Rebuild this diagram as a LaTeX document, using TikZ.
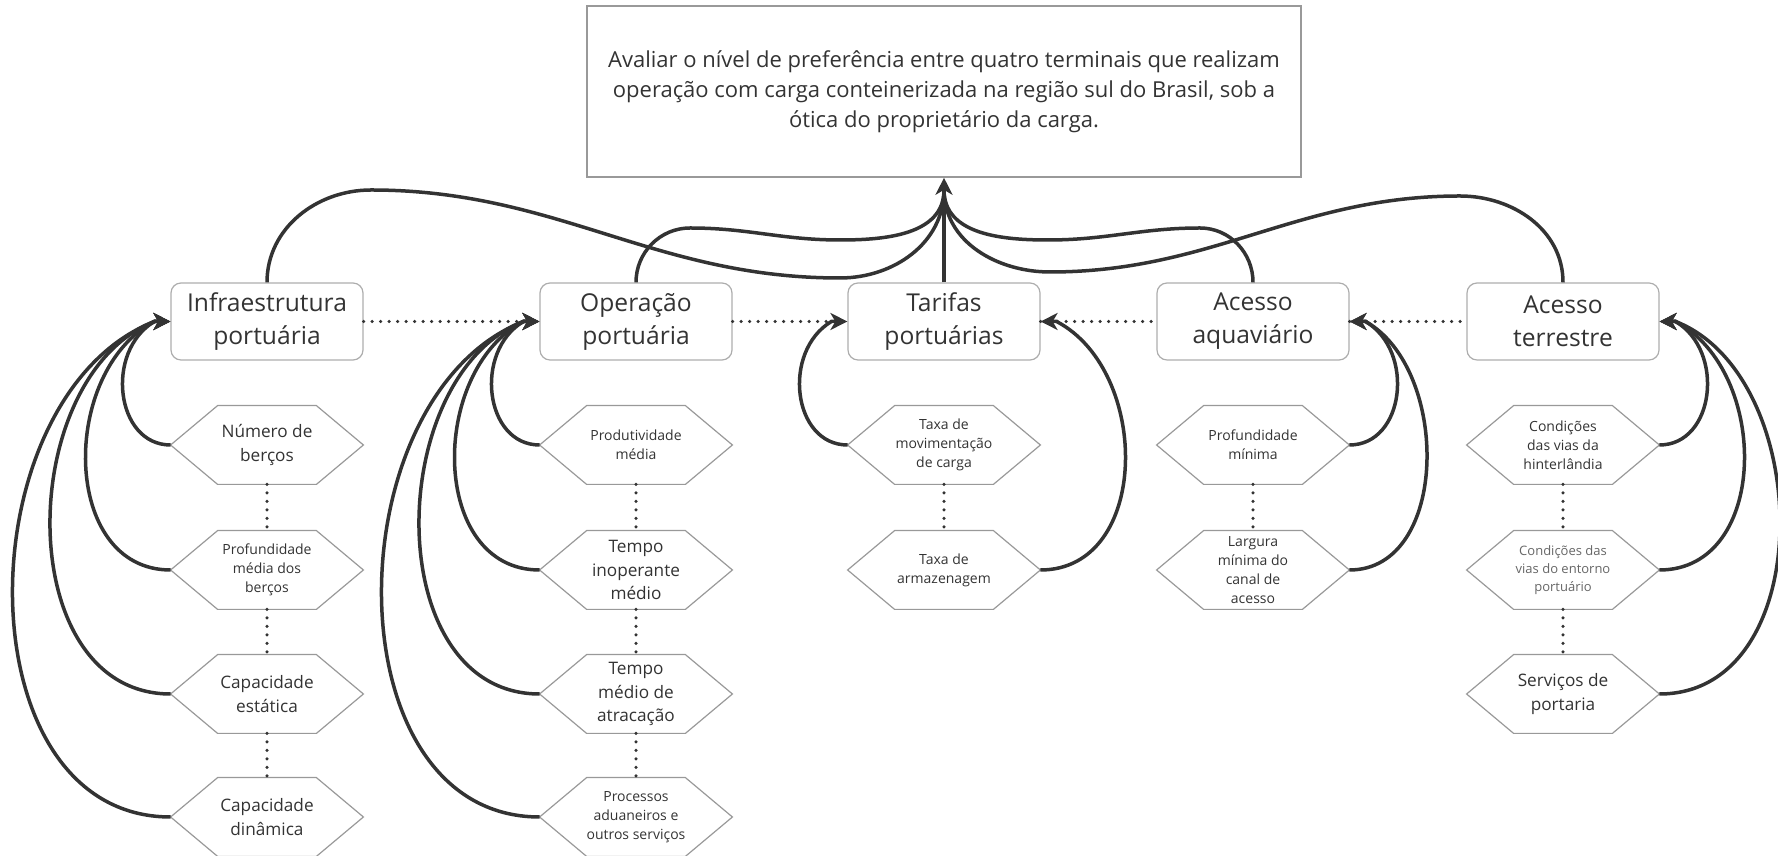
\documentclass[tikz,border=0pt]{standalone}
\usepackage{fontspec}
\setmainfont{Open Sans}
\usetikzlibrary{arrows.meta}
\definecolor{ink}{HTML}{333333}
\definecolor{edgec}{HTML}{999999}
\definecolor{lightink}{HTML}{666666}
\begin{document}
\begin{tikzpicture}[x=0.5pt,y=0.5pt,
 conn/.style={draw=ink, line width=1.75pt},
 tipped/.style={-{Stealth[length=8.5pt,width=8.5pt,inset=2.5pt]}},
 dots/.style={draw=ink, line width=1.75pt, line cap=round, dash pattern=on 0pt off 4.25pt},
 topbox/.style={draw=edgec, line width=0.8pt, minimum width=357pt, minimum height=85.5pt, inner sep=0pt, align=center, text=ink, font=\fontsize{11}{15}\selectfont},
 mainbox/.style={draw=edgec!80, line width=0.6pt, rounded corners=5pt, minimum width=96pt, minimum height=38.5pt, inner sep=0pt, align=center, text=ink, font=\fontsize{12.3}{16.5}\selectfont},
 hexbox/.style={minimum width=96pt, minimum height=39pt, inner sep=0pt, align=center, text=ink},
 big/.style={font=\fontsize{8.6}{11.7}\selectfont},
 small/.style={font=\fontsize{7}{9.4}\selectfont},
 tiny/.style={font=\fontsize{6.5}{9}\selectfont, text=lightink},
 hexline/.style={draw=edgec, line width=0.6pt},
]
\useasboundingbox (0,0) rectangle (1778,856);

% top goal
\node[topbox] (top) at (944,764.5) {Avaliar o nível de preferência entre quatro terminais que realizam\\operação com carga conteinerizada na região sul do Brasil, sob a\\ótica do proprietário da carga.};

% criteria
\node[mainbox] (infra) at (267,534.5) {Infraestrutura\\portuária};
\node[mainbox] (op) at (636,534.5) {Operação\\portuária};
\node[mainbox] (tar) at (944,534.5) {Tarifas\\portuárias};
\node[mainbox] (aqua) at (1253,534.5) {Acesso\\aquaviário};
\node[mainbox] (terr) at (1563,534.5) {Acesso\\terrestre};

% sub-criteria
\node[hexbox,big] (i1) at (267,411) {Número de\\berços};
\node[hexbox,small] (i2) at (267,286) {Profundidade\\média dos\\berços};
\node[hexbox,big] (i3) at (267,162) {Capacidade\\estática};
\node[hexbox,big] (i4) at (267,39) {Capacidade\\dinâmica};

\node[hexbox,small] (o1) at (636,411) {Produtividade\\média};
\node[hexbox,big] (o2) at (636,286) {Tempo\\inoperante\\médio};
\node[hexbox,big] (o3) at (636,162) {Tempo\\médio de\\atracação};
\node[hexbox,small] (o4) at (636,39) {Processos\\aduaneiros e\\outros serviços};

\node[hexbox,small] (t1) at (944,411) {Taxa de\\movimentação\\de carga};
\node[hexbox,small] (t2) at (944,286) {Taxa de\\armazenagem};

\node[hexbox,small] (a1) at (1253,411) {Profundidade\\mínima};
\node[hexbox,small] (a2) at (1253,286) {Largura\\mínima do\\canal de\\acesso};

\node[hexbox,small] (r1) at (1563,411) {Condições\\das vias da\\hinterlândia};
\node[hexbox,tiny] (r2) at (1563,286) {Condições das\\vias do entorno\\portuário};
\node[hexbox,big] (r3) at (1563,162) {Serviços de\\portaria};

% hexagon outlines
\foreach \n in {i1,i2,i3,i4,o1,o2,o3,o4,t1,t2,a1,a2,r1,r2,r3}{
  \draw[hexline] (\n.west) -- ([xshift=23.5pt]\n.north west) -- ([xshift=-23.5pt]\n.north east)
    -- (\n.east) -- ([xshift=-23.5pt]\n.south east) -- ([xshift=23.5pt]\n.south west) -- cycle;
}

% dotted links between criteria
\draw[dots] (infra.east) -- (op.west);
\draw[dots] (op.east) -- (tar.west);
\draw[dots] (tar.east) -- (aqua.west);
\draw[dots] (aqua.east) -- (terr.west);

% dotted links between sub-criteria
\draw[dots] (i1.south) -- (i2.north);
\draw[dots] (i2.south) -- (i3.north);
\draw[dots] (i3.south) -- (i4.north);
\draw[dots] (o1.south) -- (o2.north);
\draw[dots] (o2.south) -- (o3.north);
\draw[dots] (o3.south) -- (o4.north);
\draw[dots] (t1.south) -- (t2.north);
\draw[dots] (a1.south) -- (a2.north);
\draw[dots] (r1.south) -- (r2.north);
\draw[dots] (r2.south) -- (r3.north);

% curves from criteria to goal
\coordinate (goalin) at ([yshift=-6pt]top.south);
\draw[conn] (infra.north) to[out=90,in=180] (371,666) to[out=0,in=180] (840,578) to[out=0,in=-90] (goalin);
\draw[conn] (op.north) to[out=90,in=180] (690,628) to[out=0,in=180] (840,616) to[out=0,in=-90] (goalin);
\draw[conn] (aqua.north) to[out=90,in=0] (1200,628) to[out=180,in=0] (1048,616) to[out=180,in=-90] (goalin);
\draw[conn] (terr.north) to[out=90,in=0] (1460,660) to[out=180,in=0] (1050,584) to[out=180,in=-90] (goalin);
\draw[conn,tipped] (tar.north) -- (top.south);

% curves from sub-criteria to criteria (left side)
\draw[conn,tipped] (i1.west) .. controls +(-55,0) and +(-50,-30) .. ([xshift=-8pt]infra.west) -- (infra.west);
\draw[conn,tipped] (i2.west) .. controls +(-110,0) and +(-95,-50) .. ([xshift=-8pt]infra.west) -- (infra.west);
\draw[conn,tipped] (i3.west) .. controls +(-160,0) and +(-140,-55) .. ([xshift=-8pt]infra.west) -- (infra.west);
\draw[conn,tipped] (i4.west) .. controls +(-210,0) and +(-190,-75) .. ([xshift=-8pt]infra.west) -- (infra.west);

\draw[conn,tipped] (o1.west) .. controls +(-55,0) and +(-50,-30) .. ([xshift=-8pt]op.west) -- (op.west);
\draw[conn,tipped] (o2.west) .. controls +(-110,0) and +(-95,-50) .. ([xshift=-8pt]op.west) -- (op.west);
\draw[conn,tipped] (o3.west) .. controls +(-160,0) and +(-140,-55) .. ([xshift=-8pt]op.west) -- (op.west);
\draw[conn,tipped] (o4.west) .. controls +(-210,0) and +(-190,-75) .. ([xshift=-8pt]op.west) -- (op.west);

\draw[conn,tipped] (t1.west) .. controls +(-55,0) and +(-50,-30) .. ([xshift=-8pt]tar.west) -- (tar.west);

% right side
\draw[conn,tipped] (t2.east) .. controls +(110,0) and +(95,-50) .. ([xshift=8pt]tar.east) -- (tar.east);

\draw[conn,tipped] (a1.east) .. controls +(55,0) and +(50,-30) .. ([xshift=8pt]aqua.east) -- (aqua.east);
\draw[conn,tipped] (a2.east) .. controls +(100,0) and +(85,-48) .. ([xshift=8pt]aqua.east) -- (aqua.east);

\draw[conn,tipped] (r1.east) .. controls +(55,0) and +(50,-30) .. ([xshift=8pt]terr.east) -- (terr.east);
\draw[conn,tipped] (r2.east) .. controls +(110,0) and +(95,-50) .. ([xshift=8pt]terr.east) -- (terr.east);
\draw[conn,tipped] (r3.east) .. controls +(160,0) and +(140,-55) .. ([xshift=8pt]terr.east) -- (terr.east);
\end{tikzpicture}
\end{document}
